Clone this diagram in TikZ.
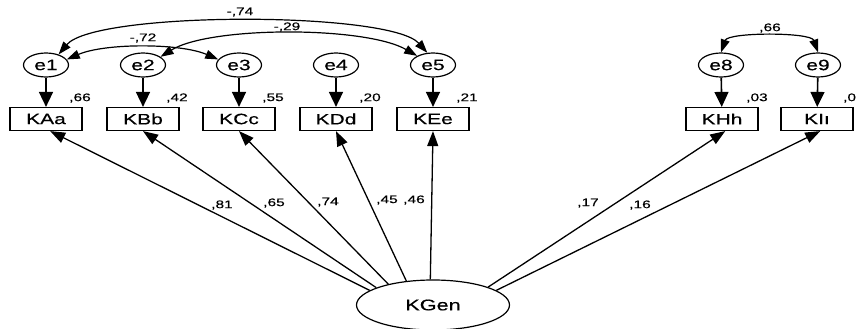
\documentclass[tikz,border=0pt]{standalone}
\usepackage{fontspec}
\setmainfont[FakeStretch=1.4,FakeBold=0.4]{Liberation Sans}
\usetikzlibrary{shapes.geometric,arrows.meta}
\begin{document}
\begin{tikzpicture}[x=1pt,y=-1pt,
  lat/.style={ellipse,draw,line width=1.2pt,minimum width=45pt,minimum height=24pt,inner sep=0pt,font=\fontsize{15}{15}\selectfont},
  obs/.style={rectangle,draw,line width=1.2pt,minimum width=72pt,minimum height=23pt,inner sep=0pt,font=\fontsize{15}{15}\selectfont},
  lbl/.style={font=\fontsize{11}{11}\selectfont,inner sep=0pt},
  errarr/.style={line width=1.6pt,-{Triangle[length=15pt,width=14pt]}},
  patharr/.style={line width=1.3pt,-{Triangle[length=15pt,width=11pt]}},
  cov/.style={line width=1.2pt,{Triangle[length=13pt,width=9pt]}-{Triangle[length=13pt,width=9pt]}},
]
\useasboundingbox (0,0) rectangle (857,329);

% error terms
\node[lat] (e1) at (46,65) {e1};
\node[lat] (e2) at (143,65) {e2};
\node[lat] (e3) at (239,65) {e3};
\node[lat] (e4) at (336,65) {e4};
\node[lat] (e5) at (433,65) {e5};
\node[lat] (e8) at (721,65) {e8};
\node[lat] (e9) at (818,65) {e9};

% observed
\node[obs] (KAa) at (46,119) {KAa};
\node[obs] (KBb) at (143,119) {KBb};
\node[obs] (KCc) at (239,119) {KCc};
\node[obs] (KDd) at (336,119) {KDd};
\node[obs] (KEe) at (433,119) {KEe};
\node[obs] (KHh) at (722,119) {KHh};
\node[obs] (KIi) at (817,119) {KI\i};

% latent
\node[ellipse,draw,line width=1.2pt,minimum width=153pt,minimum height=50pt,inner sep=0pt,font=\fontsize{15.5}{15.5}\selectfont] (KGen) at (433,305) {KGen};

% error arrows
\foreach \e/\o in {e1/KAa,e2/KBb,e3/KCc,e4/KDd,e5/KEe,e8/KHh,e9/KIi}
  \draw[errarr] (\e) -- (\o);

% R2 labels
\node[lbl] (r1) at (80,98) {,66};
\node[lbl] (r2) at (177,98) {,42};
\node[lbl] (r3) at (273,98) {,55};
\node[lbl] (r4) at (370,98) {,20};
\node[lbl] (r5) at (467,98) {,21};
\node[lbl] (r8) at (757,98) {,03};
\node[lbl,anchor=west] (r9) at (843,98) {,0};

% paths from KGen
\draw[patharr] (KGen.167) -- (KAa.-71);
\draw[patharr] (KGen.163) -- (KBb.south);
\draw[patharr] (KGen.155) -- (KCc.south);
\draw[patharr] (KGen.138) -- (KDd.south);
\draw[patharr] (KGen.96) -- (KEe.south);
\draw[patharr] (KGen.18) -- (KHh.-75);
\draw[patharr] (KGen.13) -- (KIi.-75);

\node[lbl] (p1) at (222,205) {,81};
\node[lbl] (p2) at (274,203) {,65};
\node[lbl] (p3) at (328,202) {,74};
\node[lbl] (p4) at (387,200) {,45};
\node[lbl] (p5) at (414,200) {,46};
\node[lbl] (p8) at (588,203) {,17};
\node[lbl] (p9) at (640,205) {,16};

% covariances
\draw[cov] (e1.40) .. controls (95,11) and (390,11) .. (e5.115);
\draw[cov] (e1.15) .. controls (105,43) and (180,43) .. (e3.165);
\draw[cov] (e2.25) .. controls (210,26) and (365,26) .. (e5.150);
\draw[cov] (e8.north) .. controls (728,32) and (811,32) .. (e9.north);

\node[lbl] (c1) at (240,12) {-,74};
\node[lbl] (c2) at (143,38) {-,72};
\node[lbl] (c3) at (287,27) {-,29};
\node[lbl] (c4) at (770,28) {,66};
\end{tikzpicture}
\end{document}
